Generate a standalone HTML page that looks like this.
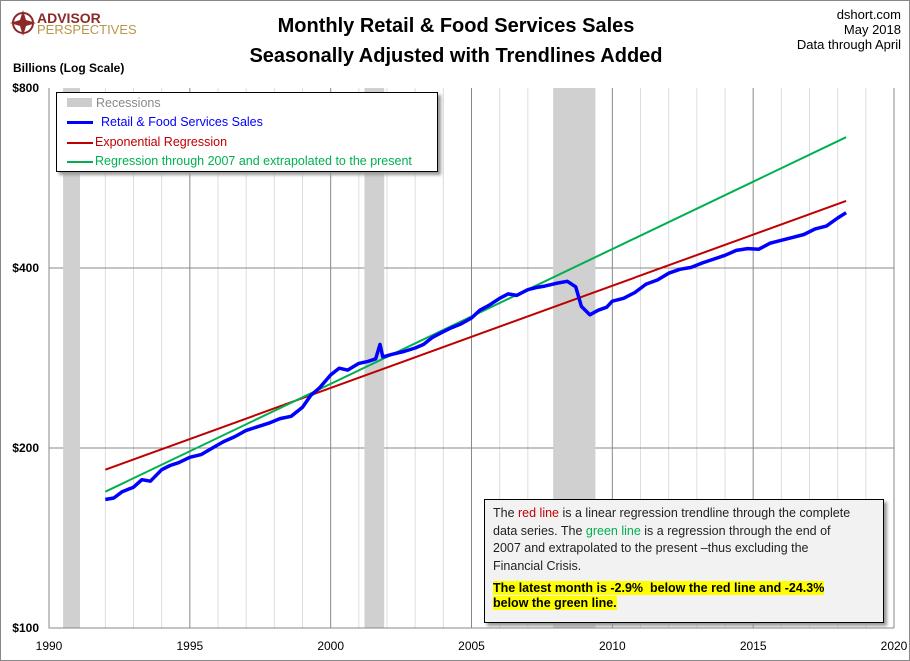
<!DOCTYPE html>
<html><head><meta charset="utf-8"><style>
body{margin:0;background:#fff;font-family:"Liberation Sans",sans-serif}
#wrap{position:relative;width:908px;height:659px;border:1px solid #888;overflow:hidden}
.t{position:absolute}
</style></head><body>
<div id="wrap">
<svg width="910" height="661" style="position:absolute;left:0;top:0" id="svg">
<g id="logo">
<circle cx="22" cy="22" r="10" fill="none" stroke="#8b2a2a" stroke-width="2"/>
<path d="M22 9 L25 19 L35 22 L25 25 L22 35 L19 25 L9 22 L19 19Z" fill="#8b2a2a"/>
<text x="36" y="22" font-size="14" font-weight="bold" fill="#8b2a2a" font-family="Liberation Sans">ADVISOR</text>
<text x="36" y="33" font-size="13" fill="#b8964a" font-family="Liberation Sans">PERSPECTIVES</text>
</g>
<text x="455" y="31" text-anchor="middle" font-size="20" font-weight="bold">Monthly Retail &amp; Food Services Sales</text>
<text x="455" y="61" text-anchor="middle" font-size="20" font-weight="bold">Seasonally Adjusted with Trendlines Added</text>
<text x="900" y="18" text-anchor="end" font-size="13">dshort.com</text>
<text x="900" y="33" text-anchor="end" font-size="13">May 2018</text>
<text x="900" y="48" text-anchor="end" font-size="13">Data through April</text>
<text x="12" y="71" font-size="12" font-weight="bold">Billions (Log Scale)</text>
<g id="grid"></g><g id="rec"></g><g id="series"></g><g id="axes"></g>
</svg>
<div class="t" style="left:55px;top:91px;width:380px;height:78px;border:1px solid #000;background:#fff;box-shadow:3px 3px 3px #999;font-size:12.5px">
<div style="position:absolute;left:10px;top:3px;color:#888"><span style="display:inline-block;width:25px;height:9px;background:#ccc;margin-right:4px"></span>Recessions</div>
<div style="position:absolute;left:10px;top:22px;color:#00f"><span style="display:inline-block;width:26px;height:3px;background:#00f;vertical-align:middle;margin-right:8px"></span>Retail &amp; Food Services Sales</div>
<div style="position:absolute;left:10px;top:42px;color:#c00000"><span style="display:inline-block;width:26px;height:2px;background:#c00000;vertical-align:middle;margin-right:2px"></span>Exponential Regression</div>
<div style="position:absolute;left:10px;top:61px;color:#00b050"><span style="display:inline-block;width:26px;height:2px;background:#00b050;vertical-align:middle;margin-right:2px"></span>Regression through 2007 and extrapolated to the present</div>
</div>
<div class="t" style="left:483px;top:498px;width:400px;height:124px;border:1px solid #000;background:#f2f2f2;box-shadow:3px 3px 3px #999;font-size:12.5px;line-height:17.5px;padding:5px 30px 5px 8px;box-sizing:border-box;color:#222">
The <span style="color:#c00000">red line</span> is a linear regression trendline through the complete data series. The <span style="color:#00b050">green line</span> is a regression through the end of 2007 and extrapolated to the present –thus excluding the Financial Crisis.
<div style="margin-top:6px;font-weight:bold;line-height:15px;color:#000"><span style="background:#ffff00">The latest month is -2.9%&nbsp; below the red line and -24.3% below the green line.</span></div>
</div>
</div>
<script>
const years=[1992.0,1992.3,1992.6,1993.0,1993.3,1993.6,1994.0,1994.3,1994.6,1995.0,1995.4,1995.8,1996.2,1996.6,1997.0,1997.4,1997.8,1998.2,1998.6,1999.0,1999.3,1999.6,2000.0,2000.3,2000.6,2001.0,2001.3,2001.6,2001.75,2001.85,2002.2,2002.6,2003.0,2003.3,2003.6,2004.0,2004.3,2004.6,2005.0,2005.3,2005.6,2006.0,2006.3,2006.6,2007.0,2007.3,2007.6,2008.0,2008.4,2008.7,2008.9,2009.2,2009.5,2009.8,2010.0,2010.4,2010.8,2011.2,2011.6,2012.0,2012.4,2012.8,2013.2,2013.6,2014.0,2014.4,2014.8,2015.2,2015.6,2016.0,2016.4,2016.8,2017.2,2017.6,2018.0,2018.3];
const sales=[164,165,169,172,177,176,184,187,189,193,195,200,205,209,214,217,220,224,226,234,245,252,265,272,270,277,279,282,298,284,287,290,294,298,306,313,318,322,330,340,346,356,362,360,368,371,373,377,380,372,345,334,340,344,352,356,364,376,382,392,398,401,408,414,420,428,431,430,440,445,450,455,465,470,485,495];
const trendYears=[1992.0,2018.3];
const redTrend=[184,518];
const greenTrend=[169,662];
const recStart=[1990.5,2001.2,2007.9];
const recEnd=[1991.1,2001.9,2009.4];
const xTicks=[1990,1995,2000,2005,2010,2015,2020];
const yTicks=[100,200,400,800];
const yLabels=["$100","$200","$400","$800"];
const X0=48,X1=893,Y0=87,Y1=627;
const xs=y=>X0+(y-1990)/30*(X1-X0);
const ys=v=>Y1-(Math.log2(v/100)/3)*(Y1-Y0);
const NS="http://www.w3.org/2000/svg";
function mk(parent,tag,attrs){const e=document.createElementNS(NS,tag);for(const k in attrs)e.setAttribute(k,attrs[k]);document.getElementById(parent).appendChild(e);return e;}
for(let y=1990;y<=2020;y++){
 const g=mk('grid','line',{x1:xs(y),x2:xs(y),y1:Y0,y2:Y1,stroke:y%5==0?'#888':'#ddd','stroke-width':1});
 
 
}
yTicks.forEach((v,i)=>{
 if(i>0&&i<3){const g=mk('grid','line',{x1:X0,x2:X1,y1:ys(v),y2:ys(v),stroke:'#888'});
 
 }
 const t=mk('axes','text',{x:X0-10,y:ys(v)+4,'text-anchor':'end','font-size':12,'font-weight':'bold'});
 t.textContent=yLabels[i];
 
 
});
recStart.forEach((s,i)=>{
 const r=mk('rec','rect',{x:xs(s),y:Y0,width:xs(recEnd[i])-xs(s),height:Y1-Y0,fill:'#d0d0d0'});
 
 
});
const ax=mk('axes','path',{d:`M${X0} ${Y0}V${Y1}H${X1}`,stroke:'#888',fill:'none'});


xTicks.forEach(y=>{
 const t=mk('axes','text',{x:xs(y),y:Y1+22,'text-anchor':'middle','font-size':12});
 t.textContent=y;
 
 
});
function line(xa,va,color,w,name){
 const d=xa.map((y,i)=>(i?'L':'M')+xs(y).toFixed(1)+' '+ys(va[i]).toFixed(1)).join('');
 const p=mk('series','path',{d,stroke:color,'stroke-width':w,fill:'none','stroke-linejoin':'round'});
 
 
}
line(trendYears,redTrend,'#c00000',2,'red-trendline');
line(trendYears,greenTrend,'#00b050',2,'green-trendline');
line(years,sales,'#0000ff',3.5,'sales-line');
</script>
</body></html>
